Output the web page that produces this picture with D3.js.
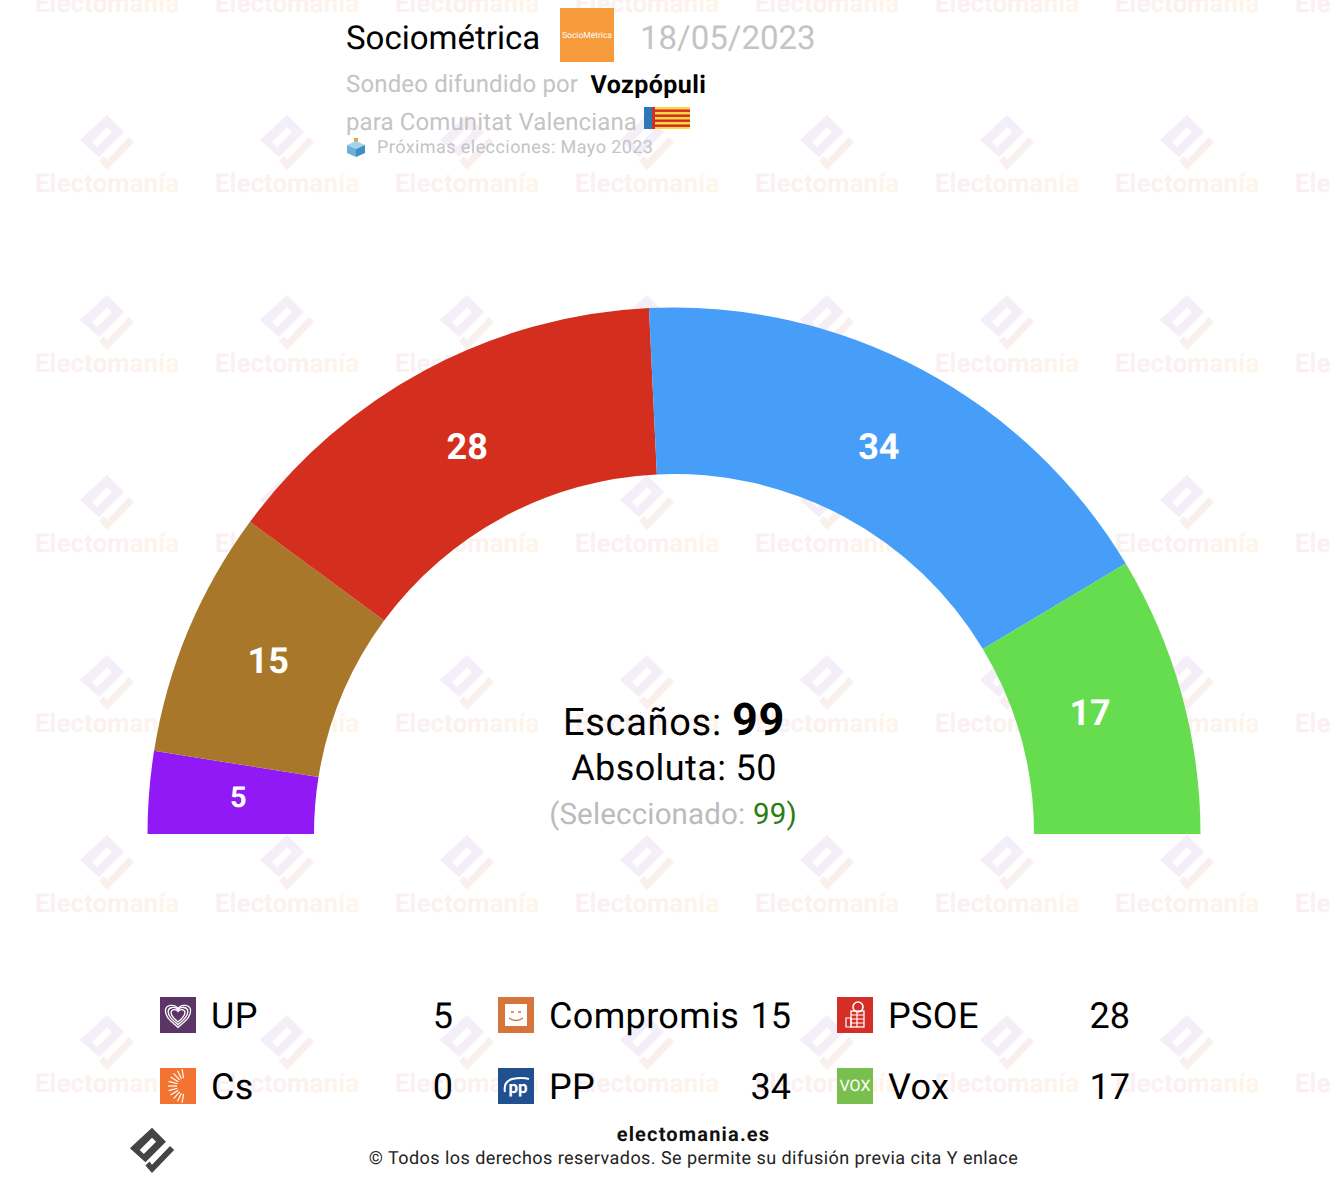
<!DOCTYPE html>
<html>
<head>
<meta charset="utf-8">
<script src="https://cdn.jsdelivr.net/npm/d3@7"></script>
<style>
  html, body { margin: 0; padding: 0; background: #fff; }
  svg { display: block; }
  text { font-family: Roboto, sans-serif; text-rendering: geometricPrecision; }
</style>
</head>
<body>
<div id="chart"></div>
<script>
var parties = ['UP', 'Compromis', 'PSOE', 'Cs', 'PP', 'Vox'];
var seats = [5, 15, 28, 0, 34, 17];
var arcColors = ['#9119f5', '#a9772a', '#d42e1f', '#f37430', '#469ef9', '#65dd4e'];
var iconColors = ['#5a3566', '#d5743b', '#d42e27', '#f37430', '#20508f', '#78bf4e'];
var totalSeats = 99, majority = 50, selected = 99;

var width = 1330, height = 1186;
var svg = d3.select('#chart').append('svg').attr('width', width).attr('height', height);
var defs = svg.append('defs');

var grad = defs.append('linearGradient').attr('id', 'wmText');
grad.append('stop').attr('offset', '0%').attr('stop-color', '#faf0f2');
grad.append('stop').attr('offset', '60%').attr('stop-color', '#fcf1ef');
grad.append('stop').attr('offset', '100%').attr('stop-color', '#fef6ea');

// logo: rotated box with slot, plus the check underneath
function drawLogo(g, boxColor, checkColor) {
  g.append('path').attr('fill', boxColor).attr('fill-rule', 'evenodd')
    .attr('d', 'M0,-27L17,-10L-8,15L-27,-2Z M-15,0L-10,5L5,-10L0,-15Z');
  g.append('path').attr('fill', checkColor)
    .attr('d', 'M27,0L0,28L-8,19L-3,14L0,18L22,-5Z');
}

// watermark tiles
var wm = svg.append('g');
d3.range(-1, 7).forEach(function (row) {
  d3.range(0, 8).forEach(function (col) {
    var tile = wm.append('g').attr('transform', 'translate(' + (107 + col * 180) + ',' + (142 + row * 180) + ')');
    drawLogo(tile, '#f3eef7', '#f9f0ee');
    tile.append('text').attr('y', 49.5).attr('text-anchor', 'middle')
      .attr('font-size', 26).attr('font-weight', 700)
      .attr('fill', 'url(#wmText)').text('Electomanía');
  });
});

// hemicycle
var cx = 674, cy = 834, inner = 360, outer = 526.5, labelRadius = 440;
var pie = d3.pie().sort(null).startAngle(-Math.PI / 2).endAngle(Math.PI / 2);
var arc = d3.arc().innerRadius(inner).outerRadius(outer);
var labelArc = d3.arc().innerRadius(labelRadius).outerRadius(labelRadius);
var main = svg.append('g').attr('transform', 'translate(' + cx + ',' + cy + ')');
var slices = pie(seats);
main.selectAll('path').data(slices).enter().append('path')
  .attr('d', arc)
  .attr('fill', function (d, i) { return arcColors[i]; });
// small label nudges by slice, the original does not sit them exactly on the radius
var nudgeX = [3, 0, 1, 0, -3, -8], nudgeY = [7.5, 8.5, 12.5, 0, 12.5, 8];
main.selectAll('text').data(slices.filter(function (d) { return d.data > 0; })).enter().append('text')
  .attr('x', function (d) { return labelArc.centroid(d)[0]; })
  .attr('y', function (d) { return labelArc.centroid(d)[1]; })
  .attr('dx', function (d) { return nudgeX[d.index]; })
  .attr('dy', function (d) { return nudgeY[d.index]; })
  .attr('text-anchor', 'middle')
  .attr('font-weight', 700)
  .attr('font-size', function (d) { return d.data < 10 ? 29 : 36; })
  .attr('fill', '#fff')
  .text(function (d) { return d.data; });

// centre text
var t1 = svg.append('text').attr('x', 674).attr('y', 735).attr('text-anchor', 'middle').attr('font-size', 38).attr('letter-spacing', 0.7).attr('fill', '#000');
t1.append('tspan').text('Escaños: ');
t1.append('tspan').attr('font-weight', 700).attr('font-size', 45).text(totalSeats);
svg.append('text').attr('x', 674).attr('y', 780).attr('text-anchor', 'middle').attr('font-size', 36).attr('letter-spacing', 0.4).attr('fill', '#000')
  .text('Absoluta: ' + majority);
var t3 = svg.append('text').attr('x', 673).attr('y', 824).attr('text-anchor', 'middle').attr('font-size', 29.5).attr('letter-spacing', 0.17).attr('fill', '#bbb');
t3.append('tspan').text('(Seleccionado: ');
t3.append('tspan').attr('fill', '#2a7d15').text(selected);
t3.append('tspan').attr('fill', '#2a7d15').text(')');

// header
svg.append('text').attr('x', 346).attr('y', 49).attr('font-size', 33).attr('fill', '#000').text('Sociométrica');
svg.append('rect').attr('x', 560).attr('y', 8).attr('width', 54).attr('height', 54).attr('fill', '#f59b3c');
svg.append('text').attr('x', 587).attr('y', 38).attr('text-anchor', 'middle').attr('font-size', 8.5).attr('fill', '#fff').text('SocioMétrica');
svg.append('text').attr('x', 640).attr('y', 49).attr('font-size', 33).attr('fill', '#c4c4c4').text('18/05/2023');
svg.append('text').attr('x', 346).attr('y', 92).attr('font-size', 24).attr('letter-spacing', 0.15).attr('fill', '#c4c4c4').text('Sondeo difundido por');
svg.append('text').attr('x', 590.5).attr('y', 93).attr('font-size', 25).attr('font-weight', 700).attr('letter-spacing', 0.45).attr('fill', '#000').text('Vozpópuli');
svg.append('text').attr('x', 346).attr('y', 130).attr('font-size', 24).attr('letter-spacing', 0.12).attr('fill', '#c4c4c4').text('para Comunitat Valenciana');
svg.append('text').attr('x', 377).attr('y', 153).attr('font-size', 18).attr('letter-spacing', 0.43).attr('fill', '#c4c4c4').text('Próximas elecciones: Mayo 2023');

// flag
var flag = svg.append('g').attr('transform', 'translate(644,107)');
flag.append('rect').attr('width', 46).attr('height', 22).attr('fill', '#fbd93a');
d3.range(4).forEach(function (i) {
  flag.append('rect').attr('x', 10).attr('y', 2.5 + i * 5).attr('width', 36).attr('height', 2.4).attr('fill', '#d2262b');
});
flag.append('rect').attr('width', 8).attr('height', 22).attr('fill', '#2f78b8');
flag.append('rect').attr('x', 8).attr('width', 3).attr('height', 22).attr('fill', '#c8322b');

// ballot box
var box = svg.append('g').attr('transform', 'translate(356,148)');
box.append('path').attr('fill', '#e8a24a').attr('d', 'M-2,-10H2V-4H-2Z');
box.append('path').attr('fill', '#a5d3ea').attr('d', 'M0,-7L9,-3L0,1L-9,-3Z');
box.append('path').attr('fill', '#6bb2d8').attr('d', 'M-9,-3L0,1V9L-9,5Z');
box.append('path').attr('fill', '#3f8fc0').attr('d', 'M9,-3L0,1V9L9,5Z');

// legend
var colX = [160, 498, 837], rowY = [997, 1068];
parties.forEach(function (p, i) {
  var x = colX[i % 3], y = rowY[Math.floor(i / 3)];
  var g = svg.append('g').attr('transform', 'translate(' + x + ',' + y + ')');
  g.append('rect').attr('width', 36).attr('height', 36).attr('fill', iconColors[i]);
  drawIcon(g, p);
  svg.append('text').attr('x', x + 51).attr('y', y + 31).attr('font-size', 36).attr('letter-spacing', 0.35).attr('fill', '#000').text(p);
  svg.append('text').attr('x', x + 293).attr('y', y + 31).attr('text-anchor', 'end').attr('font-size', 36).attr('fill', '#000').text(seats[i]);
});

function drawIcon(g, p) {
  if (p === 'UP') {
    [1.05, 0.82, 0.58].forEach(function (s) {
      g.append('path').attr('fill', 'none').attr('stroke', '#fff').attr('stroke-width', 1.3 / s)
        .attr('transform', 'translate(18,18) scale(' + s + ')')
        .attr('d', 'M0,12C-5,7 -12,3 -12,-4C-12,-10 -3,-11 0,-6C3,-11 12,-10 12,-4C12,3 5,7 0,12Z');
    });
  } else if (p === 'Compromis') {
    g.append('rect').attr('x', 7).attr('y', 7).attr('width', 22).attr('height', 22).attr('fill', '#fff');
    g.append('path').attr('fill', 'none').attr('stroke', iconColors[1]).attr('stroke-width', 1.3).attr('d', 'M11,21Q18,26 25,21');
    g.append('path').attr('fill', 'none').attr('stroke', iconColors[1]).attr('stroke-width', 1.6).attr('d', 'M13,15H16M20,15H23');
  } else if (p === 'PSOE') {
    g.append('rect').attr('x', 14).attr('y', 14).attr('width', 13).attr('height', 16).attr('fill', 'none').attr('stroke', '#fff').attr('stroke-width', 1.3);
    g.append('circle').attr('cx', 21).attr('cy', 10).attr('r', 5).attr('fill', 'none').attr('stroke', '#fff').attr('stroke-width', 1.6);
    g.append('path').attr('fill', 'none').attr('stroke', '#fff').attr('stroke-width', 1.2).attr('d', 'M9,21H14V30H9ZM14,18H27M14,22H27M14,26H27M20,14V30');
  } else if (p === 'Cs') {
    d3.range(-80, 81, 16).forEach(function (a) {
      var r = a * Math.PI / 180;
      g.append('line')
        .attr('x1', 25 - 8 * Math.cos(r)).attr('y1', 18 + 8 * Math.sin(r))
        .attr('x2', 25 - 17 * Math.cos(r)).attr('y2', 18 + 17 * Math.sin(r))
        .attr('stroke', '#fff').attr('stroke-width', 1.2);
    });
  } else if (p === 'PP') {
    g.append('text').attr('x', 20).attr('y', 25).attr('text-anchor', 'middle').attr('font-size', 17).attr('font-weight', 700).attr('fill', '#fff').text('pp');
    g.append('path').attr('fill', 'none').attr('stroke', '#fff').attr('stroke-width', 2).attr('d', 'M7,24Q5,14 14,11Q24,9 31,11');
  } else if (p === 'Vox') {
    g.append('text').attr('x', 18).attr('y', 23).attr('text-anchor', 'middle').attr('font-size', 16).attr('fill', '#fff').text('VOX');
  }
}

// footer
var fl = svg.append('g').attr('transform', 'translate(152,1150) scale(0.82)');
drawLogo(fl, '#444', '#444');
svg.append('text').attr('x', 693.5).attr('y', 1141).attr('text-anchor', 'middle').attr('font-size', 20).attr('font-weight', 700).attr('letter-spacing', 1.17).attr('fill', '#111').text('electomania.es');
svg.append('text').attr('x', 693.5).attr('y', 1164).attr('text-anchor', 'middle').attr('font-size', 18).attr('letter-spacing', 0.45).attr('fill', '#222').text('© Todos los derechos reservados. Se permite su difusión previa cita Y enlace');
</script>
</body>
</html>
